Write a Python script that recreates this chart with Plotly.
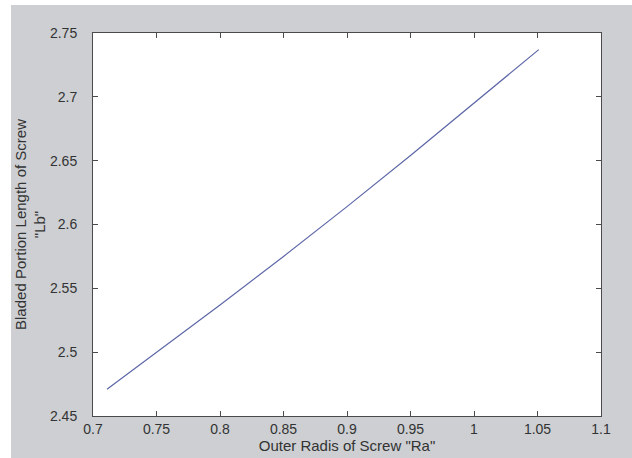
import plotly.graph_objects as go

# Data
ra_values = [0.711, 0.75, 0.80, 0.85, 0.90, 0.95, 1.00, 1.051]
lb_values = [2.471, 2.500, 2.537, 2.575, 2.614, 2.654, 2.695, 2.737]

x_ticks = [0.7, 0.75, 0.8, 0.85, 0.9, 0.95, 1.0, 1.05, 1.1]
x_tick_labels = ["0.7", "0.75", "0.8", "0.85", "0.9", "0.95", "1", "1.05", "1.1"]
y_ticks = [2.45, 2.5, 2.55, 2.6, 2.65, 2.7, 2.75]
y_tick_labels = ["2.45", "2.5", "2.55", "2.6", "2.65", "2.7", "2.75"]

GRAY = "#cdcfd2"
AXIS = "#4a4a4a"
TEXT = "#333333"
FONT = "Liberation Sans, Arial, sans-serif"

fig = go.Figure()
fig.add_trace(go.Scatter(x=ra_values, y=lb_values, mode="lines",
                         line=dict(color="#5d67a8", width=1.2),
                         showlegend=False, hoverinfo="skip"))

axis_common = dict(showgrid=False, zeroline=False, showline=True, linecolor=AXIS,
                   linewidth=1, mirror="ticks", ticks="inside", ticklen=5,
                   tickcolor=AXIS, tickwidth=1,
                   tickfont=dict(family=FONT, size=14, color=TEXT))

fig.update_xaxes(range=[0.7, 1.1], tickvals=x_ticks, ticktext=x_tick_labels,
                 title=dict(text='Outer Radis of Screw "Ra"', standoff=1,
                            font=dict(family=FONT, size=15, color=TEXT)),
                 **axis_common)
fig.update_yaxes(range=[2.45, 2.75], tickvals=y_ticks, ticktext=y_tick_labels,
                 ticklabelstandoff=12,
                 title=dict(text='Bladed Portion Length of Screw<br>"Lb"', standoff=0,
                            font=dict(family=FONT, size=15, color=TEXT)),
                 **axis_common)

W, H = 632, 458
L, R, T, B = 93, 31, 33, 42
pw, ph = W - L - R, H - T - B

def px_x(p):
    return (p - L) / pw

def px_y(p):
    return (H - B - p) / ph

fig.update_layout(
    width=W, height=H,
    margin=dict(l=L, r=R, t=T, b=B, autoexpand=False),
    paper_bgcolor=GRAY, plot_bgcolor="white",
    font=dict(family=FONT, color=TEXT),
    shapes=[
        dict(type="rect", xref="paper", yref="paper", x0=px_x(0), x1=px_x(11),
             y0=px_y(H), y1=px_y(0), fillcolor="white", line=dict(width=0), layer="below"),
        dict(type="rect", xref="paper", yref="paper", x0=px_x(0), x1=px_x(W),
             y0=px_y(5), y1=px_y(0), fillcolor="white", line=dict(width=0), layer="below"),
    ],
)

fig.write_html("out.html", config={"displayModeBar": False},
               post_script="document.body.style.margin='0';document.body.style.overflow='hidden';")
